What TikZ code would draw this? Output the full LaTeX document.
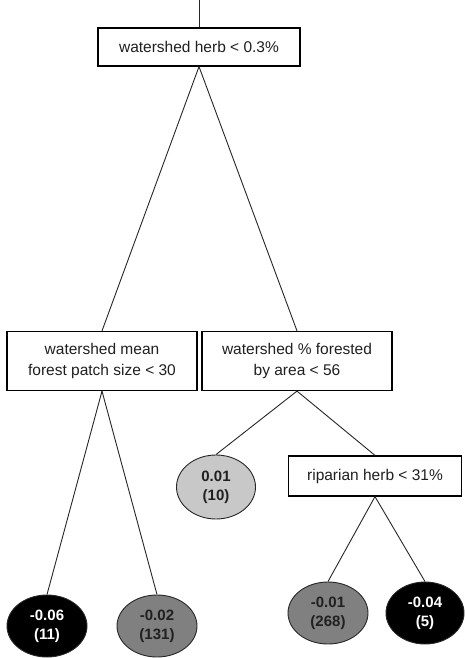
\documentclass[tikz,border=0pt]{standalone}
\usepackage{fontspec}
\setmainfont{Liberation Sans}
\usetikzlibrary{shapes.geometric}
\definecolor{lightleaf}{HTML}{C8C8C8}
\definecolor{midleaf}{HTML}{808080}
\definecolor{txt}{HTML}{202020}
\begin{document}
\begin{tikzpicture}[x=1pt,y=-1pt,
  split/.style={draw=black, line width=1.2pt, fill=white, text=txt, align=center,
    inner sep=0pt, font=\fontsize{15.5}{21}\selectfont},
  leaf/.style={ellipse, draw=black!85, line width=0.9pt, inner sep=0pt, align=center,
    minimum width=80pt, minimum height=62pt, font=\fontsize{15}{19}\selectfont\bfseries},
  lightl/.style={leaf, fill=lightleaf, text=txt},
  midl/.style={leaf, fill=midleaf, text=txt},
  darkl/.style={leaf, fill=black, text=white},
  edge/.style={draw=black!85, line width=0.9pt}
]
\useasboundingbox (0,0) rectangle (465,658);
\coordinate (top) at (199,0);
\node[split, minimum width=202pt, minimum height=38pt] (root) at (199,47) {watershed herb < 0.3\%};
\node[split, minimum width=190pt, minimum height=59pt] (lbox) at (102,361) {watershed mean\\forest patch size < 30};
\node[split, minimum width=190pt, minimum height=59pt] (rbox) at (297,361) {watershed \% forested\\by area < 56};
\node[split, minimum width=173pt, minimum height=40pt] (rip) at (375,476) {riparian herb < 31\%};
\node[lightl, minimum width=79pt, minimum height=64pt] (l1) at (216,487) {0.01\\(10)};
\node[darkl] (l2) at (47,626) {-0.06\\(11)};
\node[midl] (l3) at (157,626) {-0.02\\(131)};
\node[midl] (l4) at (328,613) {-0.01\\(268)};
\node[darkl, minimum width=78pt] (l5) at (425,613) {-0.04\\(5)};
\draw[edge] (top) -- (root.north);
\draw[edge] (root.south) -- (lbox.north);
\draw[edge] (root.south) -- (rbox.north);
\draw[edge] (lbox.south) -- (l2.north);
\draw[edge] (lbox.south) -- (l3.north);
\draw[edge] (rbox.south) -- (l1.north);
\draw[edge] (rbox.south) -- (rip.north);
\draw[edge] (rip.south) -- (l4.north);
\draw[edge] (rip.south) -- (l5.north);
\end{tikzpicture}
\end{document}
